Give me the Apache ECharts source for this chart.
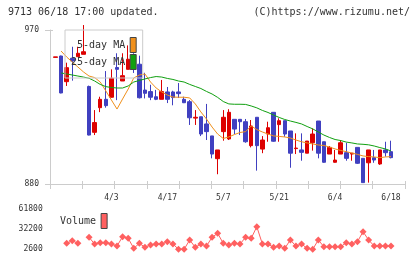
<!DOCTYPE html>
<html>
<head>
<meta charset="utf-8">
<script src="https://cdn.jsdelivr.net/npm/echarts@6/dist/echarts.min.js"></script>
<style>
  html, body { margin: 0; padding: 0; background: #fff; }
  #chart { width: 420px; height: 259px; }
</style>
</head>
<body>
<div id="chart"></div>
<script>
const dates = [
  '3/19', '3/21', '3/22', '3/25', '3/26', '3/27', '3/28', '3/29', '4/1', '4/2',
  '4/3', '4/4', '4/5', '4/8', '4/9', '4/10', '4/11', '4/12', '4/15', '4/16',
  '4/17', '4/18', '4/19', '4/22', '4/23', '4/24', '4/25', '4/26', '5/1', '5/2',
  '5/7', '5/8', '5/9', '5/10', '5/13', '5/14', '5/15', '5/16', '5/17', '5/20',
  '5/21', '5/22', '5/23', '5/24', '5/27', '5/28', '5/29', '5/30', '5/31', '6/3',
  '6/4', '6/5', '6/6', '6/7', '6/10', '6/11', '6/12', '6/13', '6/14', '6/17',
  '6/18',
];
const tickDates = ['4/3', '4/17', '5/7', '5/21', '6/4', '6/18'];
const priceTicks = [880, 970];
const volumeTicks = [2600, 32200, 61800];

// [open, close, low, high]
const candles = [
  [954.0, 954.3, 954.0, 954.3], [954.8, 933.2, 933.0, 955.0], [939.8, 948.0, 937.3, 950.9],
  [953.5, 951.9, 940.4, 960.2], [954.4, 956.4, 954.4, 960.2], [955.8, 957.3, 955.8, 972.9],
  [937.0, 908.6, 908.4, 937.5], [910.2, 915.9, 908.6, 923.2], [924.6, 929.5, 922.0, 931.0],
  [929.5, 925.8, 924.6, 946.0], [930.7, 941.8, 930.5, 947.0], [948.1, 947.0, 929.0, 956.4],
  [940.2, 943.3, 940.2, 956.4], [947.0, 952.9, 947.0, 961.0], [952.9, 947.0, 944.9, 956.4],
  [950.0, 930.4, 930.0, 955.0], [934.9, 933.0, 930.0, 945.0], [934.0, 930.7, 929.0, 938.0],
  [931.0, 929.5, 929.0, 935.0], [929.5, 934.0, 929.5, 940.8], [933.8, 929.5, 927.3, 936.7],
  [933.8, 930.5, 926.0, 934.5], [933.8, 932.8, 930.3, 939.0], [929.5, 927.5, 927.3, 931.0],
  [928.1, 918.7, 914.5, 929.1], [918.5, 919.0, 914.5, 923.2], [919.3, 909.2, 908.0, 919.3],
  [915.1, 910.6, 905.7, 926.8], [908.1, 897.5, 895.0, 908.1], [894.8, 899.9, 885.7, 899.9],
  [910.6, 919.0, 905.3, 923.2], [906.3, 921.9, 905.7, 923.7], [917.8, 912.1, 909.2, 917.8],
  [917.8, 916.4, 908.6, 917.8], [916.4, 904.7, 904.1, 918.0], [902.4, 913.9, 901.4, 917.4],
  [919.0, 902.4, 887.8, 919.0], [900.4, 905.7, 898.0, 908.0], [909.2, 912.9, 904.7, 916.4],
  [921.9, 905.0, 904.7, 921.9], [914.7, 917.0, 904.7, 918.4], [917.0, 909.2, 907.6, 917.0],
  [911.0, 898.0, 889.5, 911.0], [900.7, 901.0, 897.5, 909.6], [899.9, 898.5, 893.6, 909.6],
  [898.0, 905.1, 898.0, 905.1], [904.1, 909.2, 899.5, 912.5], [916.8, 898.0, 895.0, 916.8],
  [904.7, 892.7, 892.4, 904.7], [897.5, 901.4, 897.5, 902.2], [892.7, 894.0, 892.5, 899.9],
  [897.5, 904.1, 897.5, 905.7], [898.3, 895.0, 893.6, 904.1], [897.5, 898.0, 893.6, 898.0],
  [901.4, 892.1, 891.7, 901.4], [895.0, 880.8, 880.8, 895.0], [892.4, 899.9, 880.8, 899.9],
  [895.4, 894.0, 892.4, 899.9], [891.7, 899.9, 891.2, 899.9], [899.9, 898.3, 896.0, 904.7],
  [898.9, 895.4, 895.0, 905.3],
];

const ma5 = [
  null, 957.7, 954.2, 951.3, 948.4, 945.5, 943.1, 942.2, 939.6, 934.4,
  929.1, 923.8, 929.7, 935.5, 942.0, 943.7, 944.3, 939.6, 936.1, 933.8,
  932.0, 930.8, 930.7, 930.7, 930.3, 926.8, 922.1, 918.0, 913.3, 909.2,
  906.6, 907.5, 908.9, 910.1, 910.6, 913.9, 911.8, 910.4, 909.2, 908.1,
  907.8, 907.5, 906.9, 905.7, 904.7, 904.0, 903.4, 902.8, 902.5, 901.6,
  900.5, 899.6, 898.9, 898.1, 897.3, 896.4, 896.0, 895.8, 895.4, 895.8,
  896.0,
];

const ma25 = [
  null, 944.9, 944.3, 943.7, 943.1, 942.5, 941.8, 940.2, 938.2, 936.9,
  936.4, 936.1, 936.1, 937.3, 939.6, 940.5, 941.4, 942.2, 942.8, 942.5,
  941.7, 941.1, 940.2, 939.6, 938.2, 937.0, 935.8, 934.1, 932.6, 930.6,
  928.2, 926.8, 926.6, 926.6, 926.5, 925.6, 924.5, 923.0, 921.8, 920.3,
  918.9, 917.7, 916.8, 916.0, 915.1, 913.6, 912.2, 910.4, 908.6, 907.2,
  906.0, 905.4, 904.5, 904.0, 903.4, 903.2, 902.9, 902.2, 901.3, 900.5,
  899.3,
];

const volume = [
  null, null, 11000, 14900, 11000, null, 19900, 10000, 11900, 11900,
  10000, 7000, 20800, 18400, 3600, 11000, 5100, 8500, 10000, 10000,
  13400, 10000, 2200, 2200, 15900, 5100, 10000, 7000, 19900, 25800,
  11000, 8500, 11000, 10000, 19900, 18400, 35600, 10000, 10000, 5100,
  7000, 3600, 15900, 7000, 10000, 3600, 2200, 15900, 6000, 6000,
  6000, 6000, 11900, 10000, 13400, 28200, 15900, 7000, 7000, 7000,
  7000,
];

const mono = 'DejaVu Sans Mono';
const gray = '#cccccc';
const txt = '#333333';
const upColor = '#dd0000';
const downColor = '#4040c0';
const ma5Color = '#f0901c';
const ma25Color = '#10a010';
const volColor = '#ff6060';

const chart = echarts.init(document.getElementById('chart'), null, { renderer: 'canvas' });

chart.setOption({
  animation: false,
  backgroundColor: '#fff',
  title: [
    {
      text: '9713 06/18 17:00 updated.',
      left: 8, top: 7, padding: 0,
      textStyle: { fontFamily: mono, fontSize: 10, fontWeight: 'normal', color: txt },
    },
    {
      text: '(C)https://www.rizumu.net/',
      right: 10, top: 7, padding: 0,
      textStyle: { fontFamily: mono, fontSize: 10, fontWeight: 'normal', color: txt },
    },
  ],
  legend: [
    {
      data: [
        { name: '5-day MA', icon: 'rect', itemStyle: { color: ma5Color, borderColor: '#444', borderWidth: 1 } },
        { name: '25-day MA', icon: 'rect', itemStyle: { color: ma25Color, borderColor: '#444', borderWidth: 1 } },
      ],
      orient: 'vertical',
      align: 'right',
      left: 65, top: 30,
      padding: [7, 6, 8, 6],
      itemGap: 1, itemWidth: 6, itemHeight: 15,
      borderColor: gray, borderWidth: 1,
      selectedMode: false,
      textStyle: { fontFamily: mono, fontSize: 10, color: txt },
    },
    {
      data: [{ name: 'Volume', icon: 'rect', itemStyle: { color: volColor, borderColor: '#444', borderWidth: 1 } }],
      align: 'right',
      left: 60, top: 213,
      padding: 0,
      itemWidth: 6, itemHeight: 15,
      selectedMode: false,
      textStyle: { fontFamily: mono, fontSize: 10, color: txt },
    },
  ],
  grid: [
    { left: 52.7, top: 30, width: 341.1, height: 154 },
    { left: 50, top: 30, width: 355, height: 154 },
    { left: 52.7, top: 209, width: 341.1, height: 40 },
  ],
  xAxis: [
    {
      type: 'category', gridIndex: 0, data: dates, boundaryGap: true,
      axisLine: { show: false }, axisTick: { show: false }, splitLine: { show: false },
      axisLabel: {
        interval: (i, v) => tickDates.includes(v),
        margin: 10, fontFamily: mono, fontSize: 8, color: txt,
      },
    },
    {
      type: 'value', gridIndex: 1, min: 0, max: 11, interval: 1,
      axisLine: { lineStyle: { color: gray } },
      axisTick: { length: 5, lineStyle: { color: gray } },
      axisLabel: { show: false }, splitLine: { show: false },
    },
    {
      type: 'value', gridIndex: 1, min: 0, max: 11, interval: 1, position: 'bottom',
      axisLine: { show: false },
      axisTick: { inside: true, length: 3, lineStyle: { color: gray } },
      axisLabel: { show: false }, splitLine: { show: false },
    },
    {
      type: 'category', gridIndex: 2, data: dates, boundaryGap: true, show: false,
    },
  ],
  yAxis: [
    { type: 'value', gridIndex: 0, min: priceTicks[0], max: priceTicks[1], show: false },
    {
      type: 'value', gridIndex: 1, min: priceTicks[0], max: priceTicks[1],
      interval: priceTicks[1] - priceTicks[0],
      axisLine: { show: true, lineStyle: { color: gray } },
      axisTick: { show: true, length: 5, lineStyle: { color: gray } },
      axisLabel: { margin: 11, fontFamily: mono, fontSize: 8, color: txt },
      splitLine: { show: false },
    },
    {
      type: 'value', gridIndex: 1, min: priceTicks[0], max: priceTicks[1],
      interval: priceTicks[1] - priceTicks[0], position: 'left',
      axisLine: { show: false },
      axisTick: { show: true, inside: true, length: 3, lineStyle: { color: gray } },
      axisLabel: { show: false }, splitLine: { show: false },
    },
    {
      type: 'value', gridIndex: 2, min: volumeTicks[0], max: volumeTicks[2],
      interval: volumeTicks[1] - volumeTicks[0],
      axisLine: { show: false }, axisTick: { show: false }, splitLine: { show: false },
      axisLabel: {
        margin: 10, fontFamily: mono, fontSize: 8, color: txt,
        formatter: v => String(v),
      },
    },
  ],
  series: [
    {
      name: 'price',
      type: 'candlestick',
      xAxisIndex: 0, yAxisIndex: 0,
      data: candles,
      barWidth: 4,
      clip: false,
      itemStyle: {
        color: upColor, color0: downColor,
        borderColor: upColor, borderColor0: downColor, borderWidth: 1,
      },
    },
    {
      name: '5-day MA',
      type: 'line',
      xAxisIndex: 0, yAxisIndex: 0,
      data: ma5,
      showSymbol: false,
      clip: false,
      z: 3,
      color: ma5Color,
      lineStyle: { color: ma5Color, width: 1 },
    },
    {
      name: '25-day MA',
      type: 'line',
      xAxisIndex: 0, yAxisIndex: 0,
      data: ma25,
      showSymbol: false,
      clip: false,
      z: 3,
      color: ma25Color,
      lineStyle: { color: ma25Color, width: 1 },
    },
    {
      name: 'Volume',
      type: 'line',
      xAxisIndex: 3, yAxisIndex: 3,
      data: volume,
      symbol: 'diamond',
      symbolSize: 7,
      showAllSymbol: true,
      clip: false,
      color: volColor,
      itemStyle: { color: volColor },
      lineStyle: { color: volColor, width: 1 },
    },
  ],
});
</script>
</body>
</html>
